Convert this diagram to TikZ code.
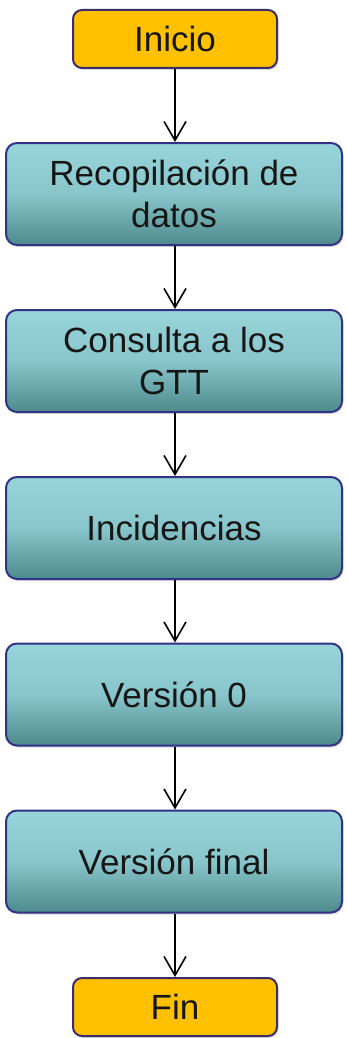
\documentclass[tikz,border=0pt]{standalone}
\usepackage{fontspec}
\setmainfont{Liberation Sans}
\usepackage{tikz}
\usetikzlibrary{arrows.meta,shadows}

\definecolor{naranja}{RGB}{255,192,0}
\definecolor{bordeNar}{RGB}{60,45,105}
\definecolor{tealClaro}{RGB}{152,213,219}
\definecolor{tealOscuro}{RGB}{76,138,140}
\definecolor{bordeAzul}{RGB}{50,50,135}
\definecolor{texto}{RGB}{22,22,22}

\tikzset{
	extremo/.style={rectangle, rounded corners=9pt, draw=bordeNar, line width=2pt,
		fill=naranja, minimum width=204pt, minimum height=58pt, inner sep=0pt,
		text=texto, font=\fontsize{35}{42}\selectfont,
		drop shadow={shadow xshift=1.5pt, shadow yshift=-2pt, opacity=0.25}},
	paso/.style={rectangle, rounded corners=11pt, draw=bordeAzul, line width=2pt,
		top color=tealClaro, bottom color=tealOscuro, middle color=tealClaro!80!tealOscuro,
		minimum width=336pt, minimum height=102pt, inner sep=0pt,
		text=texto, align=center, font=\fontsize{35}{42}\selectfont,
		drop shadow={shadow xshift=1.5pt, shadow yshift=-2pt, opacity=0.25}},
	flecha/.style={line width=1.6pt, -{Straight Barb[length=19pt, width=22pt, line width=1.6pt]}}
}

\begin{document}
\begin{tikzpicture}[x=1pt, y=1pt]
	\useasboundingbox (0,0) rectangle (347,-1038);

	\node[extremo] (inicio) at (175,-39) {Inicio};

	\foreach \nombre/\y/\txt in {recop/-194/{Recopilación de\\datos},
		consulta/-361/{Consulta a los\\GTT}, incid/-528/{Incidencias},
		ver0/-694.5/{Versión 0}, verfin/-861.5/{Versión final}} {
		\node[paso] (\nombre) at (174,\y) {\txt};
	}

	\node[extremo] (fin) at (175,-1007) {Fin};

	\foreach \a/\b in {inicio/recop, recop/consulta, consulta/incid, incid/ver0, ver0/verfin, verfin/fin} {
		\draw[flecha] (\a.south -| inicio) -- (\b.north -| inicio);
	}
\end{tikzpicture}
\end{document}
